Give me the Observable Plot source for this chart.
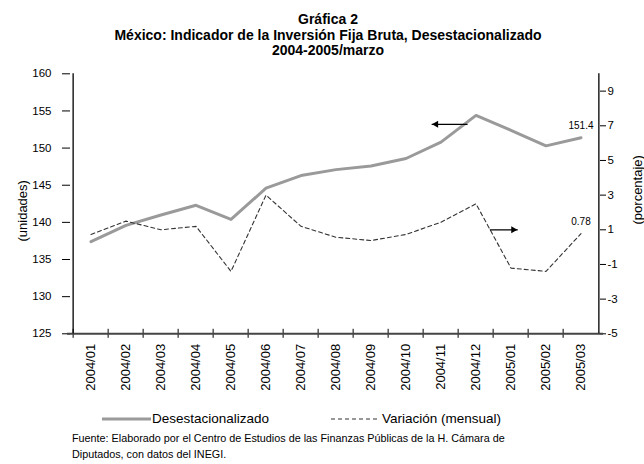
<!DOCTYPE html>
<html><head><meta charset="utf-8">
<script src="https://cdn.jsdelivr.net/npm/d3@7"></script>
<script src="https://cdn.jsdelivr.net/npm/@observablehq/plot@0.6"></script>
<style>
body{margin:0;background:#fff;font-family:"Liberation Sans",Arial,sans-serif;color:#000;}
#wrap{position:relative;width:644px;height:464px;overflow:hidden;background:#fff;}
#titulo{position:absolute;left:0;top:12px;width:656px;text-align:center;font-weight:bold;font-size:14px;line-height:15.5px;}
#chart{position:absolute;left:0;top:60px;}
.leg{position:absolute;font-size:13.5px;line-height:16px;white-space:nowrap;}
.leg svg{position:absolute;}
#fuente{position:absolute;left:72px;top:430px;font-size:10.8px;line-height:16px;}
</style></head><body>
<div id="wrap">
  <div id="titulo"></div>
  <div id="chart"></div>
  <div id="leyenda"></div>
  <div id="fuente"></div>
</div>
<script>
const titulo = ["Gráfica 2", "México: Indicador de la Inversión Fija Bruta, Desestacionalizado", "2004-2005/marzo"];
const periodos = ["2004/01","2004/02","2004/03","2004/04","2004/05","2004/06","2004/07","2004/08","2004/09","2004/10","2004/11","2004/12","2005/01","2005/02","2005/03"];
const desestacionalizado = [137.4, 139.6, 141.0, 142.3, 140.4, 144.6, 146.3, 147.1, 147.6, 148.6, 150.8, 154.4, 152.4, 150.3, 151.4];
const variacion = [0.73, 1.5, 1.0, 1.2, -1.4, 3.0, 1.2, 0.57, 0.38, 0.73, 1.44, 2.5, -1.21, -1.4, 0.78];
const ticksIzq = [125, 130, 135, 140, 145, 150, 155, 160];
const ticksDer = [-5, -3, -1, 1, 3, 5, 7, 9];
const dominioIzq = [125, 160];
const dominioDer = [-5, 10];
const series = ["Desestacionalizado", "Variación (mensual)"];
const ejes = ["(unidades)", "(porcentaje)"];
const fuente = ["Fuente: Elaborado por el Centro de Estudios de las Finanzas Públicas de la H. Cámara de", "Diputados, con datos del INEGI."];
// arrows: from period, to period, value on its own axis
const flechaIzq = {desde: "2004/12", hasta: "2004/11", valor: 153.2};
const flechaDer = {desde: "2004/12", hasta: "2005/01", valor: 1.0};

const toLeft = v => dominioIzq[0] + (v - dominioDer[0]) * (dominioIzq[1] - dominioIzq[0]) / (dominioDer[1] - dominioDer[0]);
const fromLeft = v => dominioDer[0] + (v - dominioIzq[0]) * (dominioDer[1] - dominioDer[0]) / (dominioIzq[1] - dominioIzq[0]);

document.getElementById("titulo").innerHTML = titulo.join("<br>");
document.getElementById("fuente").innerHTML = fuente.join("<br>");

const rows = periodos.map((p, i) => ({p, d: desestacionalizado[i], v: variacion[i]}));
const W = 644, ML = 67, MR = 41;
const bw = (W - ML - MR) / periodos.length;
const font = "'Liberation Sans', Arial, sans-serif";

const chart = Plot.plot({
  width: W, height: 340,
  marginLeft: ML, marginRight: MR, marginTop: 13.3, marginBottom: 66.7,
  style: {fontFamily: font, fontSize: "11px", background: "white", color: "#000"},
  x: {type: "band", domain: periodos, padding: 0, label: null},
  y: {domain: dominioIzq, label: null},
  marks: [
    Plot.axisX({tickRotate: -90, tickSize: 0, tickPadding: 10, fontSize: 13, label: null}),
    Plot.axisX({tickSize: 9, dy: -4.5, dx: -bw / 2, tickFormat: () => "", label: null, stroke: "#000"}),
    Plot.axisY({ticks: ticksIzq, tickSize: 0, tickPadding: 16, fontSize: 11.5, label: null}),
    Plot.axisY({ticks: ticksIzq, tickSize: 8, dx: 3, tickFormat: () => "", label: null}),
    Plot.axisY({anchor: "right", ticks: ticksDer.map(toLeft), tickFormat: d => String(Math.round(fromLeft(d))), tickSize: 0, tickPadding: 4, fontSize: 11.5, label: null}),
    Plot.axisY({anchor: "right", ticks: ticksDer.map(toLeft), tickSize: 6, dx: -4, tickFormat: () => "", label: null}),
    Plot.ruleY([dominioIzq[0]], {stroke: "#444", strokeWidth: 2}),
    Plot.ruleX([periodos[0]], {dx: -bw / 2, stroke: "#000", strokeWidth: 1.3}),
    Plot.ruleX([periodos[periodos.length - 1]], {dx: bw / 2, stroke: "#000", strokeWidth: 1.3}),
    Plot.line(rows, {x: "p", y: "d", stroke: "#9a9a9a", strokeWidth: 3}),
    Plot.line(rows, {x: "p", y: d => toLeft(d.v), stroke: "#333", strokeWidth: 1.1, strokeDasharray: "4,3"}),
    Plot.arrow([flechaIzq], {x1: "desde", x2: "hasta", y1: "valor", y2: "valor", dx: -8.9, stroke: "#000", strokeWidth: 1.3, headLength: 0}),
    Plot.dot([flechaIzq], {x: "hasta", y: "valor", dx: -4.9, symbol: "triangle", rotate: -90, r: 2.6, fill: "#000", stroke: "none"}),
    Plot.arrow([flechaDer], {x1: "desde", x2: "hasta", y1: d => toLeft(d.valor), y2: d => toLeft(d.valor), dx: 10.3, insetStart: 4, insetEnd: 4, stroke: "#000", strokeWidth: 1.3, headLength: 0}),
    Plot.dot([flechaDer], {x: "hasta", y: d => toLeft(d.valor), dx: 2.3, symbol: "triangle", rotate: 90, r: 2.6, fill: "#000", stroke: "none"}),
    Plot.text([rows[rows.length - 1]], {x: "p", y: "d", text: d => d.d.toFixed(1), dy: -12, fontSize: 10}),
    Plot.text([rows[rows.length - 1]], {x: "p", y: d => toLeft(d.v), text: d => String(d.v), dy: -12, fontSize: 10}),
    Plot.text([ejes[0]], {frameAnchor: "left", textAnchor: "middle", rotate: -90, dx: -45, dy: 7, fontSize: 13}),
    Plot.text([ejes[1]], {frameAnchor: "right", textAnchor: "middle", rotate: -90, dx: 34, dy: -14, fontSize: 13})
  ]
});
document.getElementById("chart").appendChild(chart);

// legend
const leg = document.getElementById("leyenda");
leg.innerHTML =
  `<div class="leg" style="left:102px;top:411px"><svg width="49" height="16" style="left:0;top:0"><line x1="0" x2="49" y1="8" y2="8" stroke="#9a9a9a" stroke-width="3"/></svg><span style="position:absolute;left:50px;top:0">${series[0]}</span></div>` +
  `<div class="leg" style="left:331px;top:411px"><svg width="49" height="16" style="left:0;top:0"><line x1="0" x2="49" y1="8" y2="8" stroke="#333" stroke-width="1.1" stroke-dasharray="4,3"/></svg><span style="position:absolute;left:51px;top:0">${series[1]}</span></div>`;
</script>
</body></html>
